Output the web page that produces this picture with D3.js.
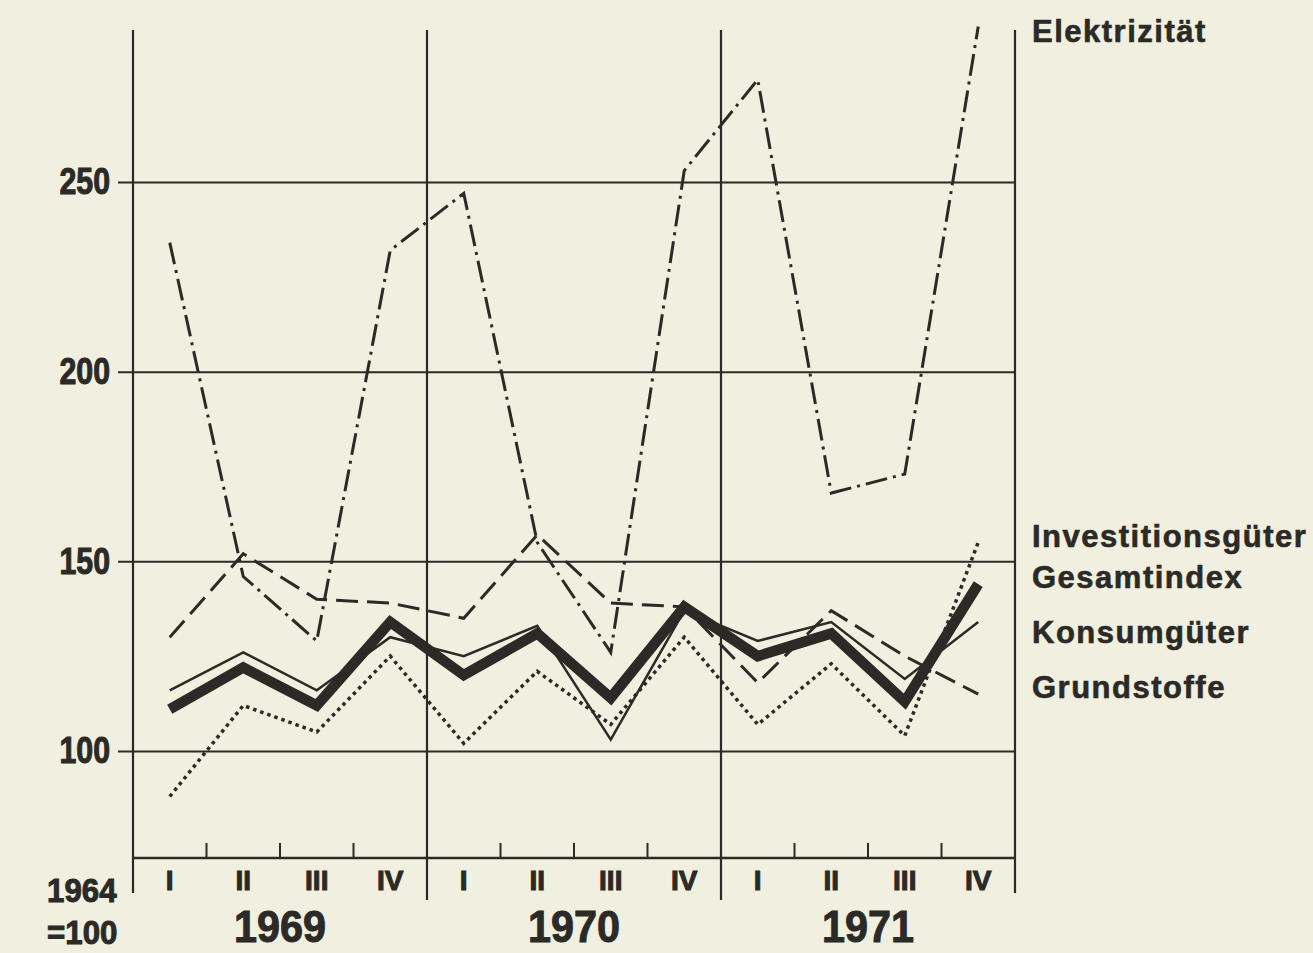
<!DOCTYPE html>
<html>
<head>
<meta charset="utf-8">
<script src="https://cdn.jsdelivr.net/npm/d3@7"></script>
<style>
  html, body { margin: 0; padding: 0; background: #f1efdf; }
  svg { display: block; }
  .num { font-family: "Liberation Sans", Arial, Helvetica, sans-serif; font-weight: bold; fill: #2b2a26; stroke: #2b2a26; stroke-width: 1px; paint-order: stroke; }
  .lbl { font-family: "Liberation Sans", Arial, Helvetica, sans-serif; font-weight: bold; fill: #2b2a26; stroke: #2b2a26; stroke-width: 0.6px; letter-spacing: 1.5px; }
</style>
</head>
<body>
<svg id="chart"></svg>
<script>
let width = 1313;
let height = 953;

// data (1964 = 100)
let years = ["1969", "1970", "1971"];
let quarters = ["I", "II", "III", "IV"];
let yTicks = [100, 150, 200, 250];

let elektrizitaet      = [234, 146, 129, 232, 247, 155, 126, 253, 277, 168, 173, 291];
let investitionsgueter = [88, 112, 105, 125, 102, 121, 107, 130, 107, 123, 104, 155];
let gesamtindex        = [111, 122, 112, 134, 120, 131, 114, 138, 125, 131, 113, 144];
let konsumgueter       = [116, 126, 116, 130, 125, 133, 103, 137, 129, 134, 119, 134];
let grundstoffe        = [130, 152, 140, 139, 135, 157, 139, 138, 118, 137, 125, 115];

let periods = [];
years.forEach(yr => quarters.forEach(q => periods.push(yr + " " + q)));

let ink = "#2b2a26";
let plotLeft = 133, plotRight = 1015, plotTop = 30, base = 858;

let svg = d3.select("#chart").attr("width", width).attr("height", height);

let x = d3.scaleBand().domain(periods).range([plotLeft, plotRight]);
let y = d3.scaleLinear().domain([100, 250]).range([751, 182]);
let cx = d => x(d) + x.bandwidth() / 2;

// squeezed bold text, like the condensed face of the original
function squeezed(tx, ty, sx, size, str, anchor) {
  return svg.append("text")
            .attr("class", "num")
            .attr("transform", `translate(${tx},${ty}) scale(${sx},1)`)
            .attr("text-anchor", anchor || "start")
            .style("font-size", size + "px")
            .text(str);
}

// horizontal grid + value labels
let yAxis = svg.append("g")
               .attr("transform", `translate(118,0)`)
               .call(d3.axisLeft(y).tickValues(yTicks).tickSize(-(plotRight - 118)).tickPadding(8));
yAxis.select(".domain").remove();
yAxis.selectAll("line").attr("stroke", ink).attr("stroke-width", 2);
yAxis.attr("font-family", null).attr("font-size", null);
yAxis.selectAll("text")
     .attr("class", "num")
     .attr("fill", ink)
     .attr("x", -8 / 0.82)
     .attr("transform", "scale(0.82,1)")
     .style("font-size", "37px");

// vertical frame and year separators
let bounds = [0, 4, 8].map(i => x(periods[i])).concat([plotRight]);
svg.selectAll(".vline")
   .data(bounds)
   .enter()
   .append("line")
   .attr("x1", d => d).attr("x2", d => d)
   .attr("y1", plotTop)
   .attr("y2", (d, i) => (i == 0 || i == 3) ? 893 : 900)
   .attr("stroke", ink)
   .attr("stroke-width", 2.2);

// baseline with quarter ticks
svg.append("line")
   .attr("x1", plotLeft).attr("x2", plotRight)
   .attr("y1", base).attr("y2", base)
   .attr("stroke", ink).attr("stroke-width", 2.5);

svg.selectAll(".qtick")
   .data(periods.filter((d, i) => i % 4 != 0))
   .enter()
   .append("line")
   .attr("x1", d => x(d)).attr("x2", d => x(d))
   .attr("y1", base - 15).attr("y2", base)
   .attr("stroke", ink).attr("stroke-width", 2);

periods.forEach(p => squeezed(cx(p), 890, 1, 28, p.split(" ")[1], "middle"));
years.forEach((yr, i) => squeezed((bounds[i] + bounds[i + 1]) / 2, 942, 0.92, 45, yr, "middle"));

squeezed(47, 902, 0.92, 34, "1964");
squeezed(47, 944, 0.92, 34, "=100");

// series lines
let series = [
  {name: "Elektrizität", values: elektrizitaet, w: 3, dash: "22,6,3,6", ly: 42},
  {name: "Investitionsgüter", values: investitionsgueter, w: 3.5, dash: "3.5,4", ly: 547},
  {name: "Gesamtindex", values: gesamtindex, w: 10.5, dash: null, ly: 588},
  {name: "Konsumgüter", values: konsumgueter, w: 2.5, dash: null, ly: 643},
  {name: "Grundstoffe", values: grundstoffe, w: 3, dash: "22,9", ly: 698}
];

let line = d3.line()
             .x((d, i) => cx(periods[i]))
             .y(d => y(d));

svg.selectAll(".series")
   .data(series)
   .enter()
   .append("path")
   .attr("d", d => line(d.values))
   .attr("fill", "none")
   .attr("stroke", ink)
   .attr("stroke-width", d => d.w)
   .attr("stroke-dasharray", d => d.dash)
   .attr("stroke-linejoin", "miter");

svg.selectAll(".slabel")
   .data(series)
   .enter()
   .append("text")
   .attr("class", "lbl")
   .attr("x", 1032)
   .attr("y", d => d.ly)
   .style("font-size", "31px")
   .text(d => d.name);
</script>
</body>
</html>
